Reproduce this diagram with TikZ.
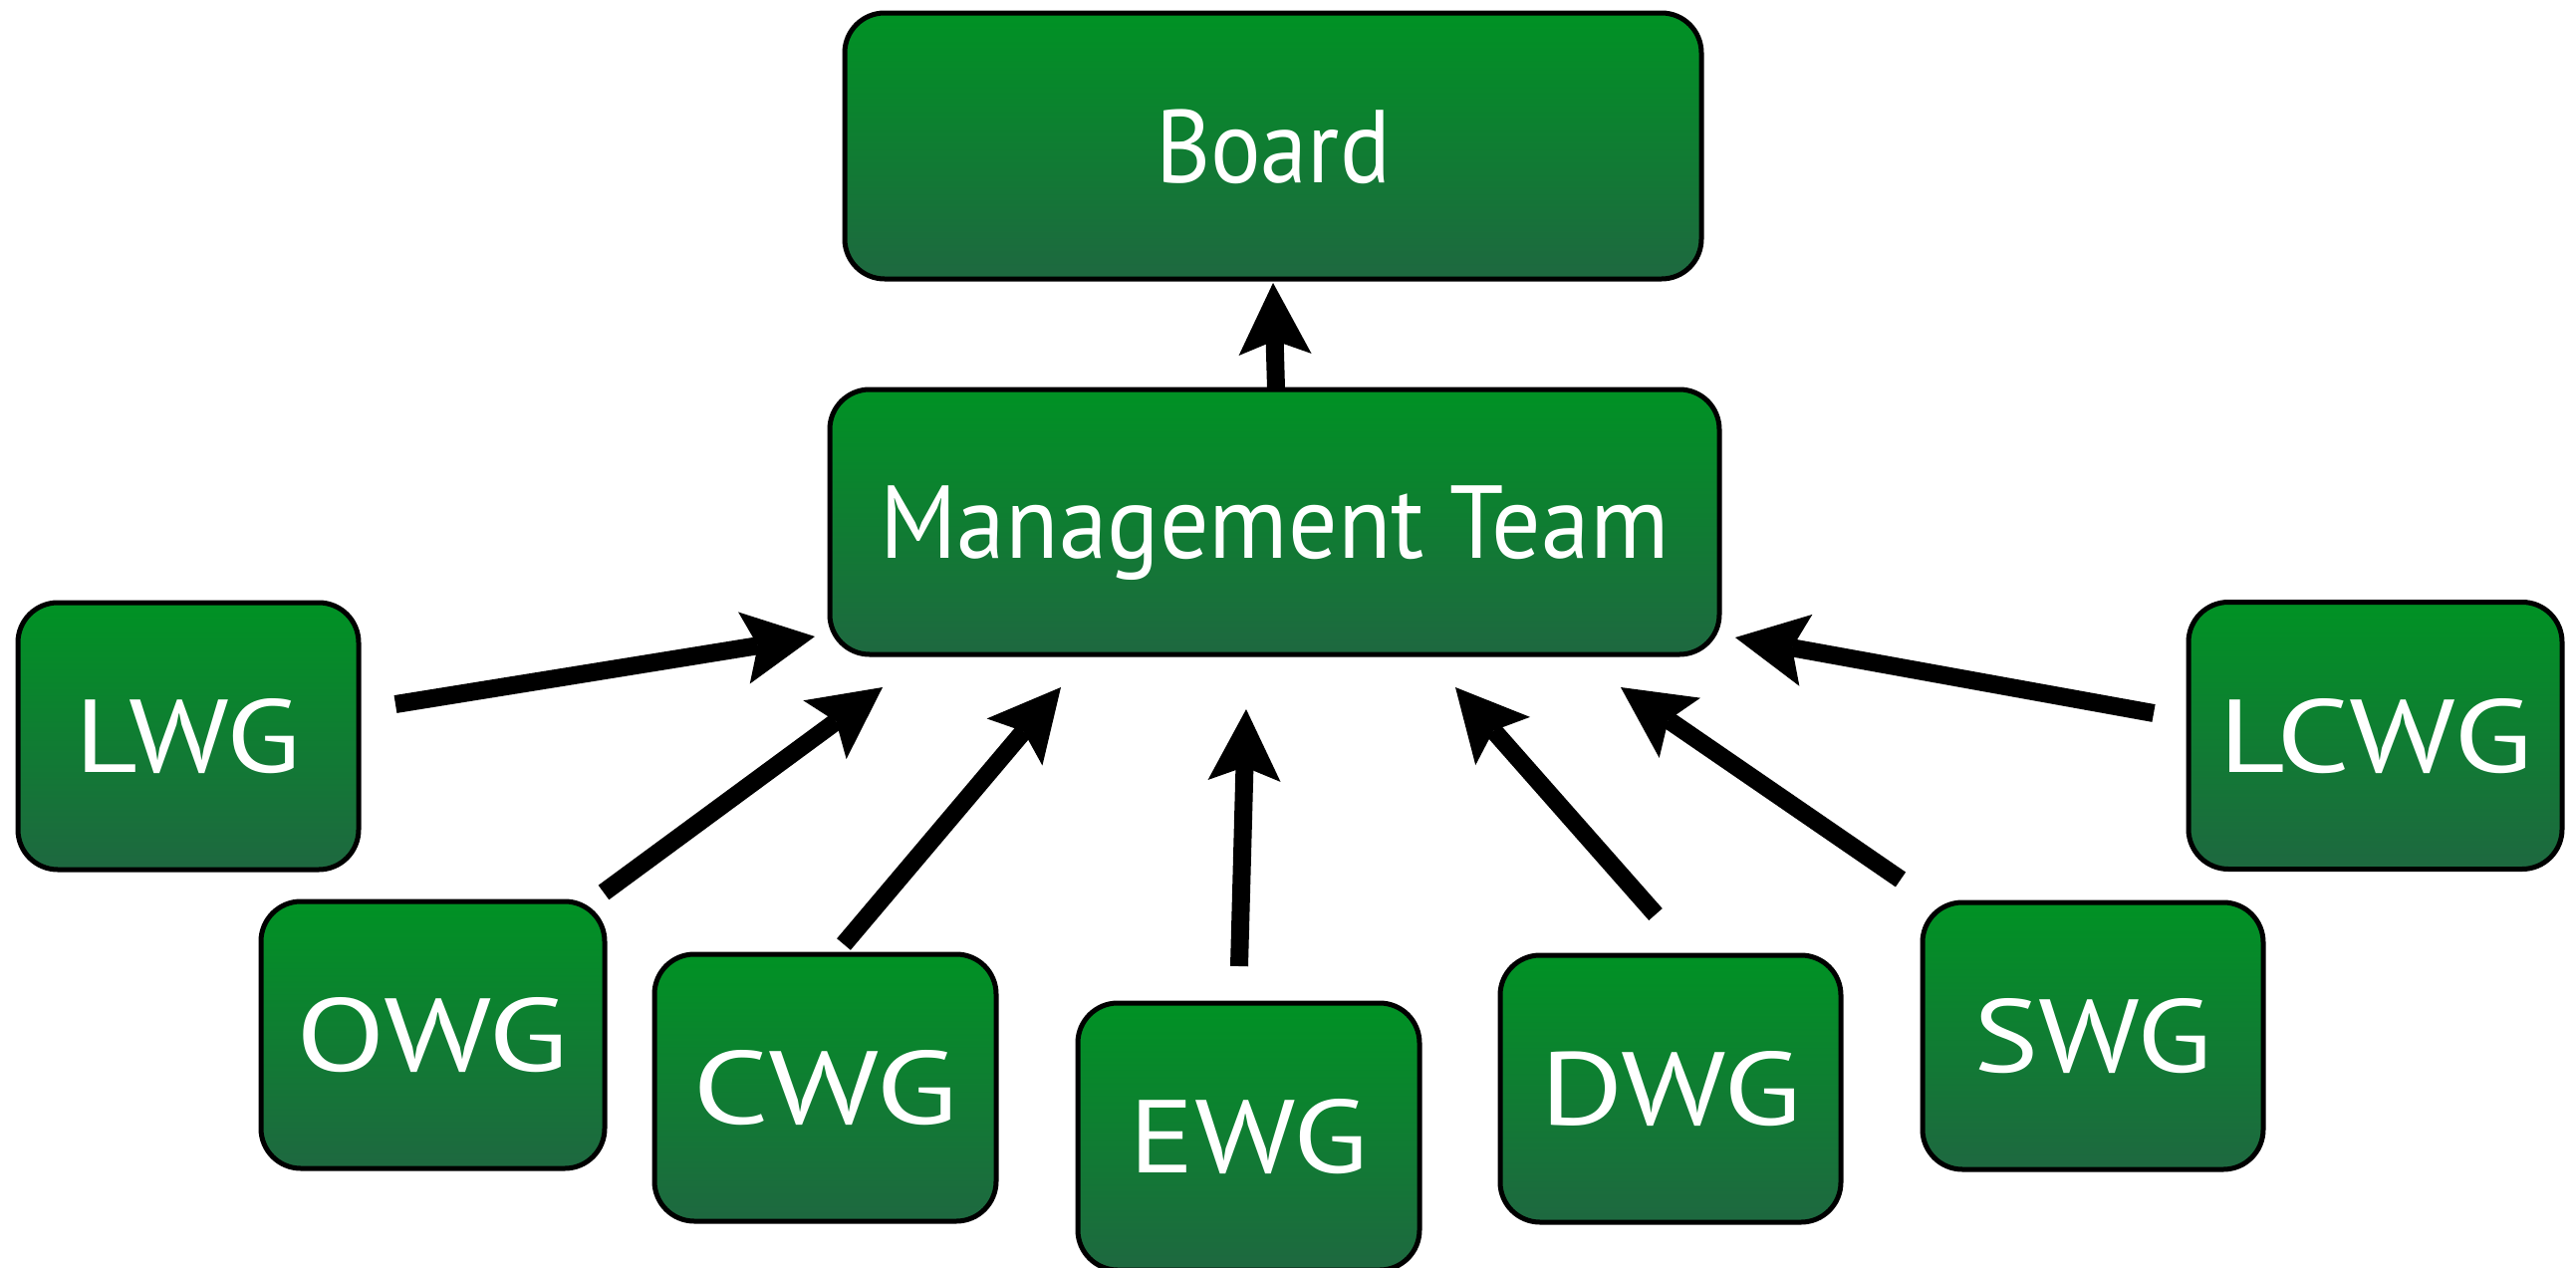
\documentclass[tikz,border=0pt]{standalone}
\usepackage{fontspec}
\setmainfont{PT Sans}
\usetikzlibrary{arrows.meta,shadings}
\definecolor{gtop}{RGB}{0,146,36}
\definecolor{gbot}{RGB}{30,104,64}
\newcommand\fitto[2]{\resizebox{#1}{\height}{#2}}
\tikzset{
  box/.style={draw=black, line width=5pt, rounded corners=40pt,
    top color=gtop, bottom color=gbot, inner sep=0pt,
    text height=73pt, text depth=0pt,
    text=white, font=\fontsize{104}{110}\selectfont},
  smallbox/.style={box, minimum width=343pt, minimum height=268pt},
  conn/.style={line width=18pt, -{Stealth[length=72pt,width=73pt,inset=14pt,line width=0pt]}}
}
\begin{document}
\begin{tikzpicture}[x=1pt,y=-1pt]
\useasboundingbox (0,0) rectangle (2586,1272);
\node[box, minimum width=860pt, minimum height=267pt] (board) at (1278,146.5) {\fitto{236pt}{Board}};
\node[box, minimum width=893pt, minimum height=266pt] (mt) at (1279.5,524) {\fitto{792pt}{Management Team}};
\node[smallbox, minimum width=342pt] (lwg) at (189,739) {\fitto{227pt}{LWG}};
\node[smallbox, minimum width=345pt] (owg) at (434.5,1039) {\fitto{273pt}{OWG}};
\node[smallbox] (cwg) at (828.5,1092) {\fitto{267pt}{CWG}};
\node[smallbox] (ewg) at (1253.5,1141) {\fitto{240pt}{EWG}};
\node[smallbox, minimum width=342pt] (dwg) at (1677,1093) {\fitto{262pt}{DWG}};
\node[smallbox, minimum width=342pt] (swg) at (2101,1040) {\fitto{240pt}{SWG}};
\node[smallbox, minimum width=375pt] (lcwg) at (2384.5,738.5) {\fitto{315pt}{LCWG}};
% arrow end points
\coordinate (bt) at (1281,390); \coordinate (bh) at (1278,284);
\coordinate (lt) at (397,707);  \coordinate (lh) at (818,639);
\coordinate (ot) at (606,896);  \coordinate (oh) at (886,690);
\coordinate (ct) at (847,948);  \coordinate (ch) at (1065,690);
\coordinate (et) at (1244,970); \coordinate (eh) at (1251,712);
\coordinate (dt) at (1662,918); \coordinate (dh) at (1461,690);
\coordinate (st) at (1908,883); \coordinate (sh) at (1627,690);
\coordinate (rt) at (2162,716); \coordinate (rh) at (1742,640);
\draw[conn] (bt) -- (bh);
\draw[conn] (lt) -- (lh);
\draw[conn] (ot) -- (oh);
\draw[conn] (ct) -- (ch);
\draw[conn] (et) -- (eh);
\draw[conn] (dt) -- (dh);
\draw[conn] (st) -- (sh);
\draw[conn] (rt) -- (rh);
\end{tikzpicture}
\end{document}
